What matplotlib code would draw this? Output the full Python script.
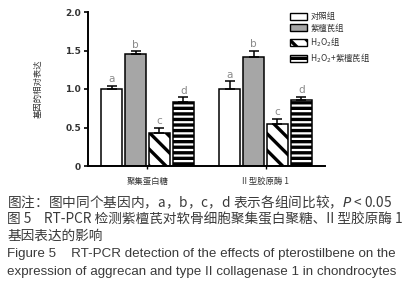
import matplotlib
matplotlib.use("Agg")
import matplotlib.pyplot as plt
from matplotlib.patches import Patch
import numpy as np

genes = ["聚集蛋白糖", "II 型胶原酶 1"]
groups = ["对照组", "紫檀芪组", "H$_2$O$_2$组", "H$_2$O$_2$+紫檀芪组"]
values = {
    "对照组": [1.00, 1.00],
    "紫檀芪组": [1.45, 1.41],
    "H2O2组": [0.43, 0.55],
    "H2O2+紫檀芪组": [0.83, 0.86],
}
errors = {
    "对照组": [0.04, 0.10],
    "紫檀芪组": [0.04, 0.09],
    "H2O2组": [0.07, 0.06],
    "H2O2+紫檀芪组": [0.06, 0.04],
}
letters = ["a", "b", "c", "d"]
series_keys = ["对照组", "紫檀芪组", "H2O2组", "H2O2+紫檀芪组"]
yticks = [0, 0.5, 1.0, 1.5, 2.0]
ytick_labels = ["0", "0.5", "1.0", "1.5", "2.0"]

plt.rcParams['font.family'] = ['Noto Sans CJK SC', 'DejaVu Sans']
plt.rcParams['hatch.linewidth'] = 2.4
plt.rcParams['mathtext.fontset'] = 'dejavusans'

fills = ["white", "#a6a6a6", "white", "white"]
hatches = [None, None, "\\\\", "---"]

fig = plt.figure(figsize=(4.13, 3.0), dpi=100)
ax = fig.add_axes([88/413, 1-166/300, (325-88)/413, (166-12)/300])

step = 0.203
width = 0.178
offsets = (np.arange(4) - 1.5) * step
x = np.arange(len(genes))
txtc = "#8a8a8a"
for i, key in enumerate(series_keys):
    pos = x + offsets[i]
    ax.bar(pos, values[key], width, color=fills[i], edgecolor="black",
           linewidth=1.1, hatch=hatches[i], zorder=2)
    ax.errorbar(pos, values[key], yerr=[np.zeros(2), errors[key]], fmt="none",
                ecolor="black", elinewidth=1.1, capsize=3.5, capthick=1.1, zorder=3)
    for p, v, e in zip(pos, values[key], errors[key]):
        ax.text(p, v + e + 0.02, letters[i], ha="center", va="bottom",
                fontsize=7.5, color=txtc, family="DejaVu Sans")

ax.set_xlim(-0.504, 1.504)
ax.set_ylim(0, 2.0)
ax.set_yticks(yticks)
ax.set_yticklabels(ytick_labels, fontsize=6.5, color="#333333", family="DejaVu Sans",
                   fontweight="bold")
ax.set_xticks(x)
ax.set_xticklabels(genes, fontsize=6, color="#333333")
ax.tick_params(axis="x", length=2, width=1, pad=6)
ax.tick_params(axis="y", length=3, width=1.2, pad=2)
for s in ["top", "right"]:
    ax.spines[s].set_visible(False)
for s in ["left", "bottom"]:
    ax.spines[s].set_linewidth(1.4)
ax.set_ylabel("基因的相对表达", fontsize=6, color="#333333", labelpad=16)

handles = [Patch(facecolor=fills[i], edgecolor="black", hatch=hatches[i], linewidth=1.0)
           for i in range(4)]
leg = ax.legend(handles, groups, loc="upper left", bbox_to_anchor=(0.84, 1.02),
                frameon=False, fontsize=6, handlelength=2.0, handleheight=0.9,
                labelspacing=0.3, handletextpad=0.4, borderaxespad=0)
for t in leg.get_texts():
    t.set_color("#333333")

c = "#3a3a3a"
fs_cn = 9.85
fs_en = 9.65
fig.text(0.017, 1-202/300, "图注：图中同个基因内，a，b，c，d 表示各组间比较，$\\it{P}$ < 0.05",
         fontsize=fs_cn, color=c, va="center", ha="left")
fig.text(0.017, 1-219/300, "图 5    RT-PCR 检测紫檀芪对软骨细胞聚集蛋白聚糖、II 型胶原酶 1",
         fontsize=fs_cn, color=c, va="center", ha="left")
fig.text(0.017, 1-236/300, "基因表达的影响",
         fontsize=fs_cn, color=c, va="center", ha="left")
fig.text(0.017, 1-254/300, "Figure 5    RT-PCR detection of the effects of pterostilbene on the",
         fontsize=fs_en, color=c, va="center", ha="left", family="Liberation Sans")
fig.text(0.017, 1-272/300, "expression of aggrecan and type II collagenase 1 in chondrocytes",
         fontsize=fs_en, color=c, va="center", ha="left", family="Liberation Sans")

fig.savefig("out.png", dpi=100)
